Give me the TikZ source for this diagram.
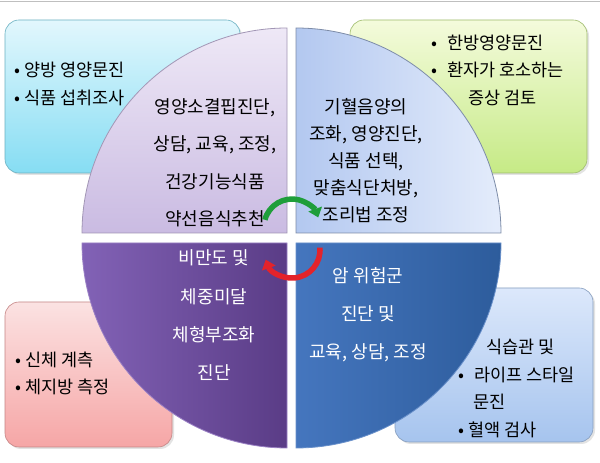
\documentclass[tikz,border=0pt]{standalone}
\usepackage{fontspec}
\setmainfont{Noto Sans CJK KR}
\usetikzlibrary{arrows.meta,shadows}
\definecolor{cyanT}{HTML}{E2F7FD}
\definecolor{cyanB}{HTML}{86DDF3}
\definecolor{greenT}{HTML}{F4FBDC}
\definecolor{greenB}{HTML}{C6EA86}
\definecolor{pinkT}{HTML}{FBE2E2}
\definecolor{pinkB}{HTML}{F6A6A6}
\definecolor{blueT}{HTML}{DCE8FB}
\definecolor{blueB}{HTML}{A6C4EE}
\definecolor{lavT}{HTML}{EEE8F6}
\definecolor{lavB}{HTML}{CABBE2}
\definecolor{skyL}{HTML}{B3C8F0}
\definecolor{skyR}{HTML}{E4ECFB}
\definecolor{purL}{HTML}{8262B6}
\definecolor{purR}{HTML}{5A3C86}
\definecolor{dblL}{HTML}{4576BE}
\definecolor{dblR}{HTML}{2D5C9C}
\definecolor{arrG}{HTML}{1F9E3A}
\definecolor{arrR}{HTML}{E3232A}
\begin{document}
\begin{tikzpicture}[x=1pt,y=1pt,
  infobox/.style={rounded corners=14pt, draw=#1, line width=0.6pt,
    drop shadow={opacity=0.22, shadow xshift=2pt, shadow yshift=-2pt}},
  quad/.style={line width=0.8pt},
  qtext/.style={align=center, font=\fontsize{18}{#1}\selectfont},
  btext/.style={align=left, anchor=west, font=\fontsize{17.5}{#1}\selectfont},
  turn/.style={line width=5.5pt, -{Triangle[width=14pt,length=9pt]}}]
\useasboundingbox (0,0) rectangle (600,463);
\fill[white] (0,0) rectangle (600,463);
\draw[gray!50, line width=1pt] (0,461.5) -- (600,461.5);

% side boxes
\node[infobox=cyanB!80!black, top color=cyanT, bottom color=cyanB, minimum width=235pt, minimum height=153pt] (cbox) at (122.5,366.5) {};
\node[infobox=greenB!80!black, top color=greenT, bottom color=greenB, minimum width=237pt, minimum height=153pt] (gbox) at (468.5,366.5) {};
\node[infobox=pinkB!80!black, top color=pinkT, bottom color=pinkB, minimum width=167pt, minimum height=145pt] (pbox) at (88.5,88.5) {};
\node[infobox=blueB!80!black, top color=blueT, bottom color=blueB, minimum width=198pt, minimum height=154pt] (bbox) at (494,98) {};

% quadrants
\path[quad, draw=lavB!80!black, top color=lavT, bottom color=lavB] (287,230) -- (82,230) arc[start angle=180, end angle=90, radius=205] -- cycle;
\path[quad, draw=skyL!70!black, left color=skyL, right color=skyR] (296,230) -- (296,435) arc[start angle=90, end angle=0, radius=205] -- cycle;
\path[quad, draw=purL!80!white, left color=purL, right color=purR] (287,220) -- (82,220) arc[start angle=180, end angle=270, radius=205] -- cycle;
\path[quad, draw=dblL!80!white, left color=dblL, right color=dblR] (296,220) -- (501,220) arc[start angle=0, end angle=-90, radius=205] -- cycle;

% quadrant texts
\node[qtext=37.5] (tl) at (215,300) {영양소결핍진단,\\상담, 교육, 조정,\\건강기능식품\\약선음식추천};
\node[qtext=27] (tr) at (366,302) {기혈음양의\\조화, 영양진단,\\식품 선택,\\맞춤식단처방,\\조리법 조정};
\node[qtext=38.3, text=white] (bl) at (214,147.5) {비만도 및\\체중미달\\체형부조화\\진단};
\node[qtext=38, text=white] (br) at (368,148) {암 위험군\\진단 및\\교육, 상담, 조정};

% box texts
\node[btext=28] (ct) at (11,379) {• 양방 영양문진\\• 식품 섭취조사};
\node[btext=27.5] (gt) at (428,393) {•\hspace{10pt}한방영양문진\\•\hspace{10pt}환자가 호소하는\\\hspace{37pt}증상 검토};
\node[btext=27.5] (pt) at (12,89.5) {• 신체 계측\\• 체지방 측정};
\node[btext=27.7] (bt) at (455,74.5) {\hspace{28pt}식습관 및\\•\hspace{10pt}라이프 스타일\\\hspace{15pt}문진\\• 혈액 검사};

% turning arrows
\coordinate (gs) at (264.9,243.2);
\coordinate (rs) at (319.9,215.4);
\draw[turn, arrG] (gs) arc[start angle=165, end angle=20, radius=28];
\draw[turn, arrR] (rs) arc[start angle=5, end angle=-160, radius=28];
\end{tikzpicture}
\end{document}
